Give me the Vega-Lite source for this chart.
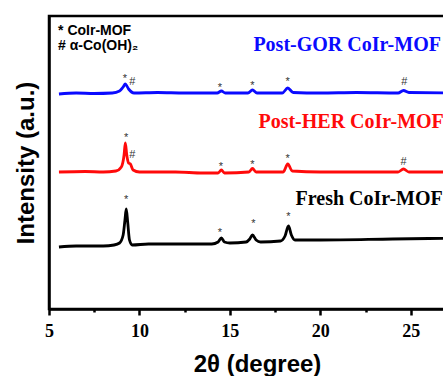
{
  "$schema": "https://vega.github.io/schema/vega-lite/v6.json",
  "width": 416,
  "height": 293,
  "autosize": {"type": "none"},
  "padding": {"left": 49, "top": 16, "right": 0, "bottom": 67},
  "background": "white",
  "config": {
    "view": {"stroke": "black", "strokeWidth": 2.5},
    "axis": {
      "grid": false,
      "labelFont": "Liberation Serif",
      "labelFontSize": 18,
      "labelFontWeight": "bold",
      "labelColor": "black",
      "titleFont": "Liberation Sans",
      "titleFontWeight": "bold",
      "titleColor": "black",
      "domainColor": "black",
      "domainWidth": 2.5,
      "tickColor": "black",
      "tickWidth": 2.5
    }
  },
  "datasets": {
    "traces": [
      {"series": "Post-GOR", "t": 5.55, "v": 215},
      {"series": "Post-GOR", "t": 6.5, "v": 216},
      {"series": "Post-GOR", "t": 7.5, "v": 215.5},
      {"series": "Post-GOR", "t": 8.5, "v": 216},
      {"series": "Post-GOR", "t": 8.9, "v": 218},
      {"series": "Post-GOR", "t": 9.1, "v": 222},
      {"series": "Post-GOR", "t": 9.22, "v": 225},
      {"series": "Post-GOR", "t": 9.4, "v": 220},
      {"series": "Post-GOR", "t": 9.7, "v": 216},
      {"series": "Post-GOR", "t": 11.0, "v": 216.5},
      {"series": "Post-GOR", "t": 12.5, "v": 216},
      {"series": "Post-GOR", "t": 14.3, "v": 216},
      {"series": "Post-GOR", "t": 14.53, "v": 218},
      {"series": "Post-GOR", "t": 14.75, "v": 216},
      {"series": "Post-GOR", "t": 16.0, "v": 216},
      {"series": "Post-GOR", "t": 16.25, "v": 219},
      {"series": "Post-GOR", "t": 16.5, "v": 216},
      {"series": "Post-GOR", "t": 17.9, "v": 216},
      {"series": "Post-GOR", "t": 18.2, "v": 221},
      {"series": "Post-GOR", "t": 18.5, "v": 216.5},
      {"series": "Post-GOR", "t": 20.0, "v": 216},
      {"series": "Post-GOR", "t": 22.0, "v": 216.5},
      {"series": "Post-GOR", "t": 24.3, "v": 216},
      {"series": "Post-GOR", "t": 24.6, "v": 218.5},
      {"series": "Post-GOR", "t": 24.9, "v": 216.5},
      {"series": "Post-GOR", "t": 28.0, "v": 216},
      {"series": "Post-HER", "t": 5.55, "v": 137},
      {"series": "Post-HER", "t": 7.0, "v": 137.5},
      {"series": "Post-HER", "t": 8.0, "v": 137},
      {"series": "Post-HER", "t": 8.7, "v": 138},
      {"series": "Post-HER", "t": 9.0, "v": 142},
      {"series": "Post-HER", "t": 9.15, "v": 154},
      {"series": "Post-HER", "t": 9.22, "v": 166},
      {"series": "Post-HER", "t": 9.3, "v": 154},
      {"series": "Post-HER", "t": 9.4, "v": 146},
      {"series": "Post-HER", "t": 9.5, "v": 145},
      {"series": "Post-HER", "t": 9.65, "v": 139},
      {"series": "Post-HER", "t": 10.0, "v": 137},
      {"series": "Post-HER", "t": 12.0, "v": 137},
      {"series": "Post-HER", "t": 13.5, "v": 136},
      {"series": "Post-HER", "t": 14.35, "v": 136},
      {"series": "Post-HER", "t": 14.53, "v": 139},
      {"series": "Post-HER", "t": 14.7, "v": 136},
      {"series": "Post-HER", "t": 16.05, "v": 137},
      {"series": "Post-HER", "t": 16.25, "v": 140.5},
      {"series": "Post-HER", "t": 16.45, "v": 137},
      {"series": "Post-HER", "t": 17.95, "v": 137},
      {"series": "Post-HER", "t": 18.2, "v": 145},
      {"series": "Post-HER", "t": 18.45, "v": 138},
      {"series": "Post-HER", "t": 20.0, "v": 137},
      {"series": "Post-HER", "t": 22.0, "v": 137},
      {"series": "Post-HER", "t": 24.3, "v": 137},
      {"series": "Post-HER", "t": 24.6, "v": 140},
      {"series": "Post-HER", "t": 24.9, "v": 137},
      {"series": "Post-HER", "t": 28.0, "v": 137},
      {"series": "Fresh", "t": 5.55, "v": 62},
      {"series": "Fresh", "t": 6.5, "v": 63},
      {"series": "Fresh", "t": 8.0, "v": 63},
      {"series": "Fresh", "t": 8.6, "v": 64},
      {"series": "Fresh", "t": 8.9, "v": 66},
      {"series": "Fresh", "t": 9.1, "v": 74},
      {"series": "Fresh", "t": 9.2, "v": 89},
      {"series": "Fresh", "t": 9.27, "v": 100},
      {"series": "Fresh", "t": 9.35, "v": 87},
      {"series": "Fresh", "t": 9.45, "v": 69},
      {"series": "Fresh", "t": 9.6, "v": 64},
      {"series": "Fresh", "t": 10.5, "v": 65},
      {"series": "Fresh", "t": 12.0, "v": 65},
      {"series": "Fresh", "t": 14.0, "v": 65},
      {"series": "Fresh", "t": 14.35, "v": 67},
      {"series": "Fresh", "t": 14.53, "v": 71},
      {"series": "Fresh", "t": 14.7, "v": 67},
      {"series": "Fresh", "t": 15.0, "v": 66},
      {"series": "Fresh", "t": 15.9, "v": 67},
      {"series": "Fresh", "t": 16.1, "v": 70},
      {"series": "Fresh", "t": 16.25, "v": 74},
      {"series": "Fresh", "t": 16.45, "v": 69},
      {"series": "Fresh", "t": 16.7, "v": 67},
      {"series": "Fresh", "t": 17.8, "v": 68},
      {"series": "Fresh", "t": 18.05, "v": 73},
      {"series": "Fresh", "t": 18.24, "v": 83},
      {"series": "Fresh", "t": 18.4, "v": 74},
      {"series": "Fresh", "t": 18.6, "v": 69},
      {"series": "Fresh", "t": 20.0, "v": 69},
      {"series": "Fresh", "t": 24.0, "v": 70},
      {"series": "Fresh", "t": 28.0, "v": 71}
    ],
    "marks": [
      {"t": 9.2, "v": 230, "s": "*"},
      {"t": 9.6, "v": 227, "s": "#"},
      {"t": 14.45, "v": 221, "s": "*"},
      {"t": 16.25, "v": 223, "s": "*"},
      {"t": 18.2, "v": 227, "s": "*"},
      {"t": 24.65, "v": 227, "s": "#"},
      {"t": 9.27, "v": 171, "s": "*"},
      {"t": 9.6, "v": 154, "s": "#"},
      {"t": 14.5, "v": 142, "s": "*"},
      {"t": 16.25, "v": 144, "s": "*"},
      {"t": 18.2, "v": 150, "s": "*"},
      {"t": 24.6, "v": 147, "s": "#"},
      {"t": 9.27, "v": 109, "s": "*"},
      {"t": 14.45, "v": 76, "s": "*"},
      {"t": 16.3, "v": 85, "s": "*"},
      {"t": 18.24, "v": 92, "s": "*"}
    ],
    "labels": [
      {"series": "Post-GOR", "t": 16.3, "v": 264, "label": "Post-GOR CoIr-MOF"},
      {"series": "Post-HER", "t": 16.58, "v": 187, "label": "Post-HER CoIr-MOF"},
      {"series": "Fresh", "t": 18.63, "v": 110, "label": "Fresh CoIr-MOF"}
    ],
    "legend": [
      {"t": 5.5, "v": 278, "label": "* CoIr-MOF"},
      {"t": 5.5, "v": 263, "label": "# α-Co(OH)₂"}
    ]
  },
  "layer": [
    {
      "data": {"name": "traces"},
      "mark": {"type": "line", "strokeWidth": 2.8, "clip": true, "interpolate": "monotone"},
      "encoding": {
        "x": {
          "field": "t", "type": "quantitative",
          "scale": {"domain": [5, 28], "nice": false, "zero": false},
          "axis": {
            "values": [5, 7.5, 10, 12.5, 15, 17.5, 20, 22.5, 25, 27.5],
            "labelExpr": "datum.value % 5 === 0 ? format(datum.value, 'd') : ''",
            "title": "2θ (degree)",
            "titleFontSize": 24,
            "titlePadding": 12,
            "labelPadding": 7, "labelFlush": false, "labelOverlap": false,
            "tickSize": {"condition": {"test": "datum.value % 5 === 0", "value": 6}, "value": 3},
            "encode": {
              "labels": {
                "update": {
                  "font": {"value": "Liberation Serif"},
                  "fontSize": {"value": 18},
                  "fontWeight": {"value": "bold"},
                  "fill": {"value": "black"}
                }
              }
            }
          }
        },
        "y": {
          "field": "v", "type": "quantitative",
          "scale": {"domain": [0, 293], "nice": false, "zero": false},
          "axis": {
            "title": "Intensity (a.u.)",
            "titleFontSize": 24,
            "titlePadding": 11,
            "labels": false, "ticks": false
          }
        },
        "color": {
          "field": "series", "type": "nominal",
          "scale": {"domain": ["Post-GOR", "Post-HER", "Fresh"], "range": ["#0a0aff", "#ff0a0a", "#000000"]},
          "legend": null
        },
        "detail": {"field": "series"}
      }
    },
    {
      "data": {"name": "marks"},
      "mark": {"type": "text", "font": "Liberation Sans", "fontSize": 11, "color": "#333333", "baseline": "middle", "align": "center"},
      "encoding": {
        "x": {"field": "t", "type": "quantitative"},
        "y": {"field": "v", "type": "quantitative"},
        "text": {"field": "s"}
      }
    },
    {
      "data": {"name": "labels"},
      "mark": {"type": "text", "font": "Liberation Serif", "fontSize": 20, "fontWeight": "bold", "baseline": "middle", "align": "left"},
      "encoding": {
        "x": {"field": "t", "type": "quantitative"},
        "y": {"field": "v", "type": "quantitative"},
        "text": {"field": "label"},
        "color": {"field": "series", "type": "nominal", "legend": null}
      }
    },
    {
      "data": {"name": "legend"},
      "mark": {"type": "text", "font": "Liberation Sans", "fontSize": 14, "fontWeight": "bold", "color": "black", "baseline": "middle", "align": "left"},
      "encoding": {
        "x": {"field": "t", "type": "quantitative"},
        "y": {"field": "v", "type": "quantitative"},
        "text": {"field": "label"}
      }
    }
  ]
}
